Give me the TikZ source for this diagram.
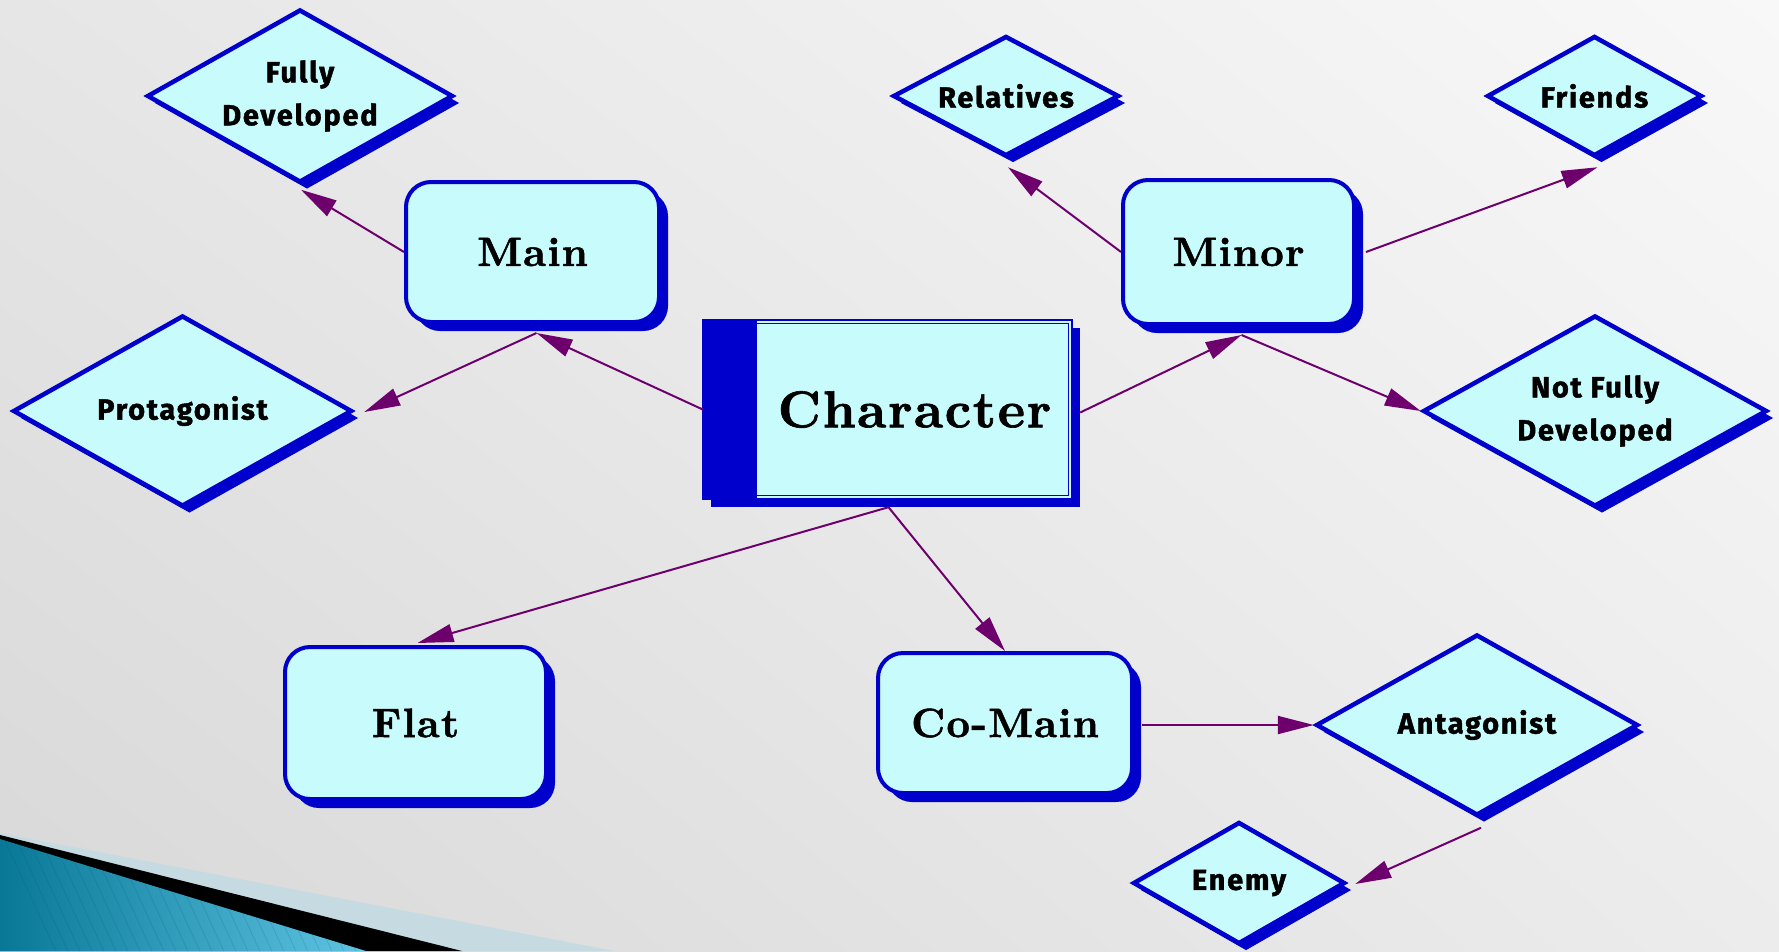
\documentclass[tikz,border=0pt]{standalone}
\usepackage{fontspec}
\newfontfamily\dfont{Fira Sans}[LetterSpace=6, BoldFeatures={FakeBold=1.5}]
\newfontfamily\boxfont{lmroman10-bold.otf}[LetterSpace=3, FakeBold=1.2]
\usetikzlibrary{shapes.geometric,shadows,shadings,arrows.meta,calc}
\definecolor{nodefill}{RGB}{200,252,252}
\definecolor{nodeblue}{RGB}{0,0,204}
\definecolor{arrowpurple}{RGB}{110,0,110}
\definecolor{bgUL}{RGB}{230,230,230}
\definecolor{bgUR}{RGB}{248,248,248}
\definecolor{bgLL}{RGB}{216,216,216}
\definecolor{bgLR}{RGB}{236,236,236}
\definecolor{decolight}{RGB}{198,218,226}
\definecolor{tealdark}{RGB}{8,120,150}
\definecolor{teallight}{RGB}{96,196,228}
\tikzset{
  boxnode/.style={rounded corners=25pt, draw=nodeblue, line width=4pt, fill=nodefill,
    drop shadow={shadow xshift=9pt, shadow yshift=-9pt, fill=nodeblue, opacity=1},
    inner sep=0pt, font=\boxfont\fontsize{41}{41}\selectfont},
  dianode/.style={diamond, aspect=1.77, draw=nodeblue, line width=4.5pt, fill=nodefill,
    inner sep=0pt, align=center,
    drop shadow={shadow xshift=7pt, shadow yshift=-7pt, fill=nodeblue, opacity=1},
    font=\dfont\bfseries\fontsize{29}{43}\selectfont},
  conn/.style={draw=arrowpurple, line width=2pt, -{Triangle[length=36pt, width=18pt]}}
}
\begin{document}
\begin{tikzpicture}[x=1pt, y=-1pt]
\useasboundingbox (0,0) rectangle (1779,951);
% background
\shade[upper left=bgUL, upper right=bgUR, lower left=bgLL, lower right=bgLR] (0,0) rectangle (1779,951);
% bottom-left decoration
\fill[decolight] (0,833) -- (614,951) -- (0,951) -- cycle;
\fill[black] (0,835) -- (462,951) -- (0,951) -- cycle;
\shade[left color=tealdark, right color=teallight] (0,839) -- (366,951) -- (0,951) -- cycle;
\begin{scope}
\clip (0,839) -- (366,951) -- (0,951) -- cycle;
\foreach \i in {0,12,...,400}{
  \draw[tealdark!70!black, opacity=0.18, line width=0.8pt] (\i,830) -- (\i+60,960);
}
\end{scope}

% diamonds
\node[dianode, minimum width=306pt, minimum height=173pt] (fd) at (300,96) {Fully\\Developed};
\node[dianode, minimum width=339pt, minimum height=191pt] (prot) at (182.5,411) {Protagonist};
\node[dianode, minimum width=226pt, minimum height=120pt] (rel) at (1006,96) {Relatives};
\node[dianode, minimum width=215pt, minimum height=120pt] (fri) at (1594.5,96) {Friends};
\node[dianode, minimum width=344pt, minimum height=191pt] (nfd) at (1595,411) {Not Fully\\Developed};
\node[dianode, minimum width=322pt, minimum height=181pt] (ant) at (1477,725) {Antagonist};
\node[dianode, minimum width=212pt, minimum height=122pt] (ene) at (1239,883) {Enemy};

% rounded boxes
\node[boxnode, minimum width=253pt, minimum height=140pt] (main) at (532.5,252) {Main};
\node[boxnode, minimum width=231pt, minimum height=144pt] (minor) at (1238.5,252) {Minor};
\node[boxnode, minimum width=261pt, minimum height=152pt] (flat) at (415.5,723) {Flat};
\node[boxnode, minimum width=254pt, minimum height=140pt] (comain) at (1005,723) {Co-Main};

% central character box
\node[minimum width=369pt, minimum height=179pt, inner sep=0pt] (char) at (887.5,409.5) {};
\fill[nodeblue] ($(char.north west)+(8,8)$) rectangle ($(char.south east)+(8,8)$);
\fill[nodefill] (char.north west) rectangle (char.south east);
\draw[nodeblue, line width=2pt] (char.north west) rectangle (char.south east);
\draw[nodeblue, line width=1.2pt] ($(char.north west)+(4,4)$) rectangle ($(char.south east)+(-4,-4)$);
\fill[nodeblue] (char.north west) rectangle ($(char.south west)+(54,0)$);
\node[font=\boxfont\fontsize{52}{52}\selectfont, inner sep=0pt] (chartext) at (914.5,409.5) {Character};

% connectors
\draw[conn] (main.west) -- ($(fd.south)+(1,5)$);
\draw[conn] (char.west) -- ($(main.south)+(4,9)$);
\draw[conn] ($(main.south)+(4,9)$) -- ($(prot.east)+(10,1)$);
\draw[conn] ($(char.east)+(8,3)$) -- ($(minor.south)+(3,9)$);
\draw[conn] (minor.west) -- ($(rel.south)+(2,9)$);
\draw[conn] ($(minor.east)+(10,0)$) -- ($(fri.south)+(3,9)$);
\draw[conn] ($(minor.south)+(3,9)$) -- (nfd.west);
\draw[conn] ($(char.south)+(1,8)$) -- ($(flat.north)+(2,-2)$);
\draw[conn] ($(char.south)+(1,8)$) -- (comain.north);
\draw[conn] ($(comain.east)+(8,2)$) -- (ant.west);
\draw[conn] ($(ant.south)+(4,10)$) -- ($(ene.east)+(8,1)$);
\end{tikzpicture}
\end{document}
